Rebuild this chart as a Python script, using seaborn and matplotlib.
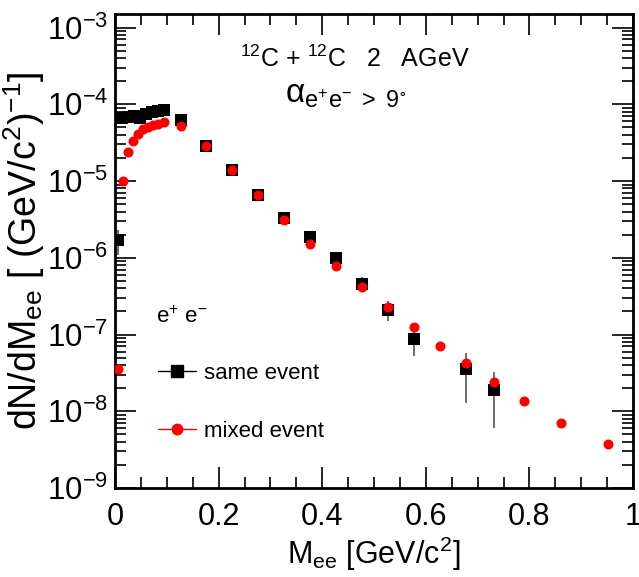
import numpy as np
import pandas as pd
import matplotlib
matplotlib.use("Agg")
import matplotlib.pyplot as plt
from matplotlib.lines import Line2D
from matplotlib.ticker import LogLocator, MultipleLocator, NullFormatter
import seaborn as sns

# same event (black squares)
same_mass = [0.006, 0.0135, 0.025, 0.037, 0.048, 0.06, 0.071, 0.083, 0.095, 0.127,
             0.176, 0.226, 0.276, 0.326, 0.376, 0.427, 0.477, 0.527, 0.577, 0.678, 0.732]
same_yield = [1.7e-6, 6.6e-5, 6.8e-5, 7.0e-5, 6.6e-5, 7.5e-5, 8.0e-5, 8.2e-5, 8.5e-5, 6.2e-5,
              2.9e-5, 1.4e-5, 6.6e-6, 3.3e-6, 1.85e-6, 1.0e-6, 4.6e-7, 2.1e-7, 8.7e-8, 3.5e-8, 1.9e-8]
same_err = [6e-7, 3e-6, 3e-6, 3e-6, 3e-6, 3e-6, 3e-6, 3e-6, 3e-6, 2e-6,
            1e-6, 6e-7, 3e-7, 2e-7, 1.5e-7, 1e-7, 1e-7, 6e-8, 3.5e-8, 2.2e-8, 1.3e-8]

# mixed event (red circles)
mixed_mass = [0.006, 0.015, 0.025, 0.035, 0.044, 0.054, 0.064, 0.073, 0.083, 0.095, 0.127,
              0.176, 0.226, 0.276, 0.326, 0.376, 0.427, 0.477, 0.527, 0.577, 0.627, 0.678,
              0.732, 0.79, 0.861, 0.952]
mixed_yield = [3.6e-8, 1.0e-5, 2.4e-5, 3.3e-5, 4.1e-5, 4.7e-5, 5.1e-5, 5.4e-5, 5.6e-5, 5.8e-5, 5.2e-5,
               2.9e-5, 1.4e-5, 6.6e-6, 3.1e-6, 1.5e-6, 7.8e-7, 4.2e-7, 2.3e-7, 1.26e-7, 7.1e-8, 4.3e-8,
               2.4e-8, 1.35e-8, 7.1e-9, 3.7e-9]

same = pd.DataFrame({"m": same_mass, "y": same_yield, "err": same_err})
mixed = pd.DataFrame({"m": mixed_mass, "y": mixed_yield})

sns.set_style("ticks")
plt.rcParams["font.family"] = ["Liberation Sans", "DejaVu Sans"]
plt.rcParams["mathtext.fontset"] = "custom"
plt.rcParams["mathtext.rm"] = "Liberation Sans"
plt.rcParams["mathtext.it"] = "Liberation Sans"
plt.rcParams["mathtext.default"] = "regular"
for key in ["text.color", "axes.labelcolor", "xtick.color", "ytick.color", "axes.edgecolor"]:
    plt.rcParams[key] = "black"

fig = plt.figure(figsize=(6.39, 5.77), dpi=100)
ax = fig.add_axes([115 / 639, 1 - 488 / 577, 518 / 639, 474 / 577])

ax.errorbar(same["m"], same["y"], yerr=same["err"], fmt="none",
            ecolor="#555555", elinewidth=1.2, capsize=0, zorder=2)
sns.scatterplot(data=same, x="m", y="y", marker="s", color="black", s=70,
                linewidth=0, ax=ax, zorder=3)
sns.scatterplot(data=mixed, x="m", y="y", marker="o", color="#ff0000", s=52,
                linewidth=0, ax=ax, zorder=4)

ax.set_yscale("log")
ax.set_xlim(0, 1)
ax.set_ylim(1e-9, 1.5e-3)

ax.xaxis.set_major_locator(MultipleLocator(0.2))
ax.xaxis.set_minor_locator(MultipleLocator(0.05))
ax.xaxis.set_major_formatter(plt.FuncFormatter(lambda v, p: "%g" % v))
ax.yaxis.set_major_locator(LogLocator(base=10, numticks=20))
ax.yaxis.set_minor_locator(LogLocator(base=10, subs=np.arange(2, 10), numticks=20))
ax.yaxis.set_minor_formatter(NullFormatter())

ax.tick_params(which="both", direction="in", top=True, right=True, width=1.2)
ax.tick_params(axis="x", which="major", length=15, labelsize=22, pad=10)
ax.tick_params(axis="y", which="major", length=15, labelsize=22.5, pad=5)
ax.tick_params(which="minor", length=8)
for sp in ax.spines.values():
    sp.set_linewidth(2)

ax.set_xlabel(r"M$_{ee}$ [GeV/c$^{2}$]", fontsize=22, labelpad=2)
ax.set_ylabel(r"dN/dM$_{ee}$ [ (GeV/c$^{2}$)$^{-1}$]", fontsize=27, labelpad=0)

ax.text(0.463, 0.905, r"$^{12}$C + $^{12}$C   2   AGeV", transform=ax.transAxes,
        ha="center", va="center", fontsize=18)
ax.text(0.445, 0.83, r"$\alpha_{e^{+}e^{-}\ >\ 9^{\circ}}$", transform=ax.transAxes,
        ha="center", va="center", fontsize=24)
ax.text(0.08, 0.36, r"e$^{+}$ e$^{-}$", transform=ax.transAxes,
        ha="left", va="center", fontsize=16)

handles = [
    Line2D([], [], color="black", marker="s", markersize=8.5, lw=1),
    Line2D([], [], color="#ff0000", marker="o", markersize=7.5, lw=1),
]
ax.legend(handles, ["same event", "mixed event"], loc="upper left",
          bbox_to_anchor=(158 / 639, 1 - 363 / 577), bbox_transform=fig.transFigure,
          frameon=False, fontsize=16, handlelength=1.7, handletextpad=0.35,
          labelspacing=1.65, borderpad=0, borderaxespad=0)

fig.savefig("out.png", dpi=100)
